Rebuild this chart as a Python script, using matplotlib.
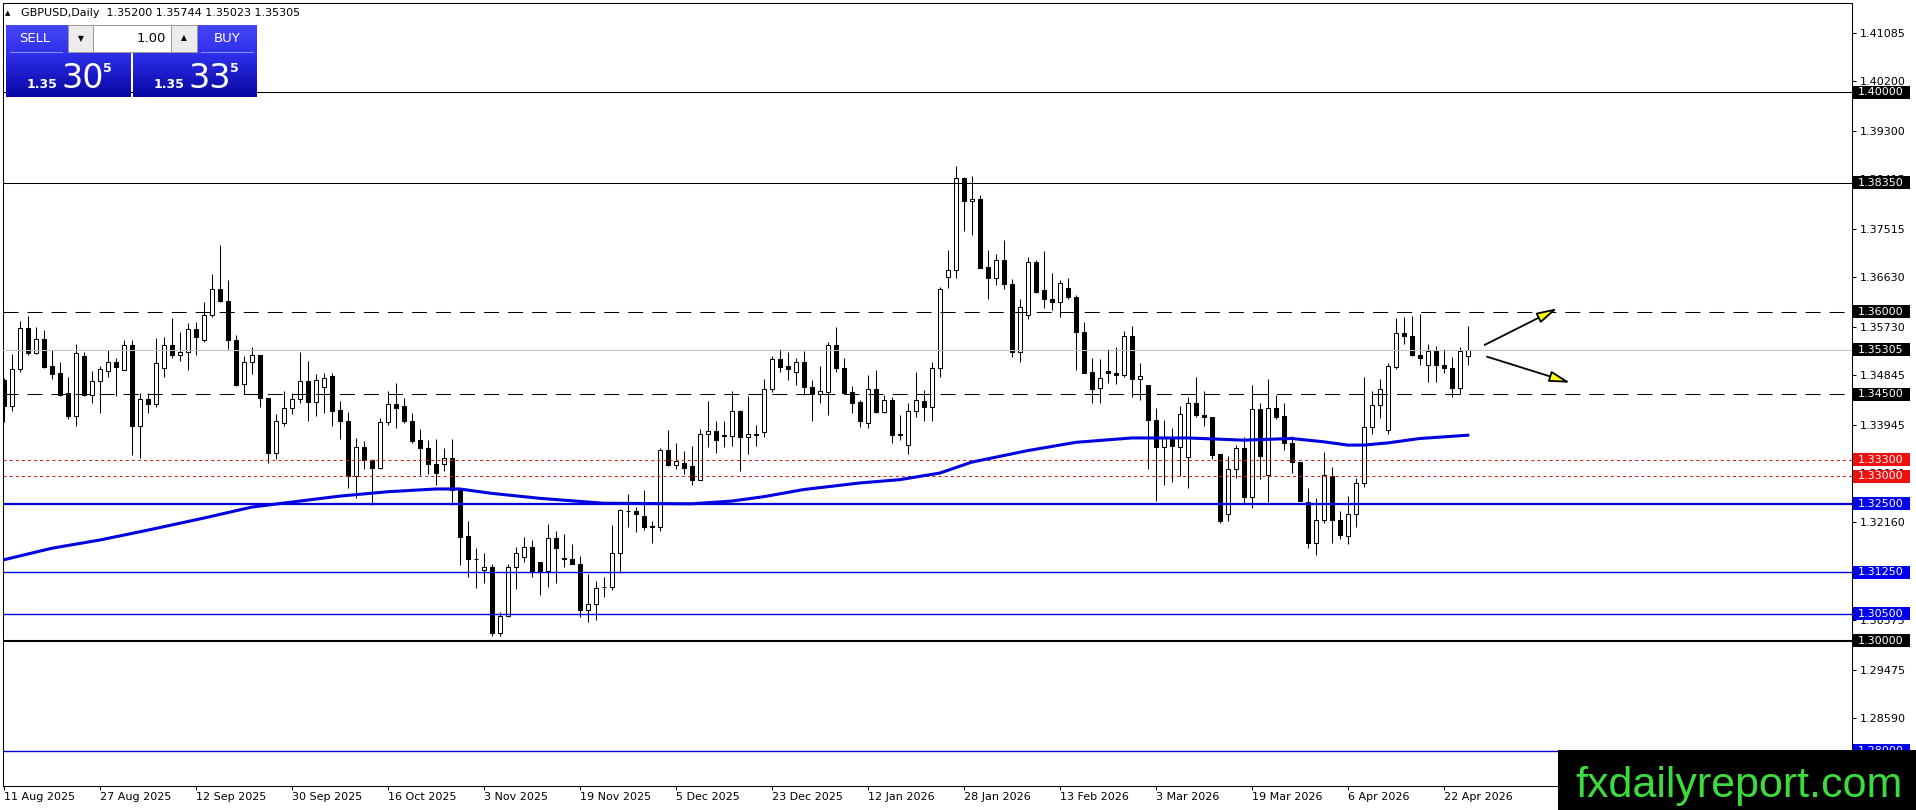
import numpy as np
import pandas as pd
import matplotlib
matplotlib.use("Agg")
import matplotlib.pyplot as plt
from matplotlib.patches import Rectangle
from matplotlib.transforms import blended_transform_factory

plt.rcParams['font.family'] = ['DejaVu Sans']
plt.rcParams['lines.scale_dashes'] = False

# daily GBPUSD candles, 11 Aug 2025 onwards
opens = [1.3476, 1.3428, 1.3495, 1.3571, 1.3525, 1.3551, 1.3501, 1.3488, 1.3452, 1.3410,
         1.3519, 1.3449, 1.3473, 1.3492, 1.3508, 1.3493, 1.3540, 1.3392, 1.3441, 1.3431,
         1.3497, 1.3540, 1.3522, 1.3526, 1.3569, 1.3549, 1.3594, 1.3641, 1.3620, 1.3549,
         1.3469, 1.3509, 1.3521, 1.3442, 1.3342, 1.3397, 1.3425, 1.3441, 1.3474, 1.3436,
         1.3462, 1.3483, 1.3421, 1.3400, 1.3300, 1.3353, 1.3330, 1.3316, 1.3399, 1.3431,
         1.3429, 1.3401, 1.3367, 1.3351, 1.3323, 1.3323, 1.3333, 1.3275, 1.3191, 1.3150,
         1.3130, 1.3135, 1.3015, 1.3046, 1.3134, 1.3153, 1.3171, 1.3144, 1.3128, 1.3187,
         1.3152, 1.3150, 1.3141, 1.3056, 1.3068, 1.3099, 1.3098, 1.3161, 1.3237, 1.3237,
         1.3228, 1.3209, 1.3208, 1.3348, 1.3321, 1.3325, 1.3319, 1.3294, 1.3378, 1.3383,
         1.3376, 1.3373, 1.3419, 1.3371, 1.3378, 1.3381, 1.3459, 1.3513, 1.3501, 1.3490,
         1.3508, 1.3463, 1.3451, 1.3453, 1.3539, 1.3497, 1.3453, 1.3435, 1.3398, 1.3460,
         1.3418, 1.3440, 1.3377, 1.3358, 1.3420, 1.3437, 1.3426, 1.3497, 1.3664, 1.3676,
         1.3844, 1.3802, 1.3806, 1.3682, 1.3662, 1.3694, 1.3650, 1.3526, 1.3594, 1.3690,
         1.3639, 1.3624, 1.3617, 1.3643, 1.3627, 1.3564, 1.3490, 1.3461, 1.3492, 1.3489,
         1.3484, 1.3556, 1.3478, 1.3467, 1.3403, 1.3354, 1.3370, 1.3354, 1.3336, 1.3434,
         1.3412, 1.3408, 1.3340, 1.3232, 1.3314, 1.3352, 1.3262, 1.3422, 1.3302, 1.3425,
         1.3410, 1.3360, 1.3327, 1.3254, 1.3179, 1.3221, 1.3301, 1.3220, 1.3192, 1.3231,
         1.3287, 1.3390, 1.3430, 1.3384, 1.3500, 1.3561, 1.3556, 1.3521, 1.3503, 1.3528,
         1.3503, 1.3497, 1.3461, 1.35200]
highs = [1.3479, 1.3523, 1.3584, 1.3593, 1.3572, 1.3566, 1.3530, 1.3508, 1.3482, 1.3542,
         1.3527, 1.3492, 1.3501, 1.3530, 1.3515, 1.3548, 1.3548, 1.3452, 1.3452, 1.3553,
         1.3554, 1.3589, 1.3564, 1.3579, 1.3581, 1.3618, 1.3668, 1.3722, 1.3657, 1.3558,
         1.3519, 1.3535, 1.3522, 1.3443, 1.3413, 1.3455, 1.3452, 1.3526, 1.3511, 1.3486,
         1.3488, 1.3488, 1.3437, 1.3418, 1.3370, 1.3365, 1.3331, 1.3406, 1.3455, 1.3470,
         1.3443, 1.3415, 1.3386, 1.3367, 1.3368, 1.3351, 1.3368, 1.3278, 1.3219, 1.3169,
         1.3161, 1.3140, 1.3052, 1.3141, 1.3172, 1.3189, 1.3184, 1.3144, 1.3214, 1.3201,
         1.3195, 1.3177, 1.3155, 1.3122, 1.3109, 1.3116, 1.3212, 1.3241, 1.3268, 1.3245,
         1.3275, 1.3218, 1.3351, 1.3384, 1.3360, 1.3347, 1.3355, 1.3387, 1.3437, 1.3400,
         1.3401, 1.3455, 1.3421, 1.3446, 1.3393, 1.3477, 1.3519, 1.3533, 1.3526, 1.3515,
         1.3529, 1.3476, 1.3501, 1.3545, 1.3572, 1.3515, 1.3465, 1.3439, 1.3485, 1.3494,
         1.3448, 1.3445, 1.3412, 1.3434, 1.3490, 1.3458, 1.3508, 1.3646, 1.3712, 1.3866,
         1.3845, 1.3847, 1.3812, 1.3713, 1.3706, 1.3731, 1.3659, 1.3623, 1.3699, 1.3695,
         1.3711, 1.3670, 1.3658, 1.3661, 1.3630, 1.3581, 1.3515, 1.3514, 1.3532, 1.3535,
         1.3565, 1.3574, 1.3507, 1.3467, 1.3425, 1.3403, 1.3388, 1.3428, 1.3445, 1.3481,
         1.3456, 1.3408, 1.3340, 1.3337, 1.3358, 1.3371, 1.3466, 1.3434, 1.3477, 1.3448,
         1.3433, 1.3374, 1.3327, 1.3279, 1.3261, 1.3344, 1.3317, 1.3237, 1.3265, 1.3297,
         1.3482, 1.3456, 1.3477, 1.3507, 1.3588, 1.3591, 1.3593, 1.3596, 1.3541, 1.3538,
         1.3533, 1.3517, 1.3535, 1.35744]
lows = [1.3399, 1.3419, 1.3491, 1.3521, 1.3523, 1.3498, 1.3477, 1.3446, 1.3405, 1.3391,
        1.3446, 1.3433, 1.3415, 1.3482, 1.3446, 1.3493, 1.3339, 1.3333, 1.3416, 1.3427,
        1.3482, 1.3515, 1.3511, 1.3493, 1.3521, 1.3545, 1.3591, 1.3617, 1.3533, 1.3464,
        1.3450, 1.3486, 1.3426, 1.3324, 1.3332, 1.3392, 1.3413, 1.3434, 1.3400, 1.3410,
        1.3415, 1.3391, 1.3368, 1.3278, 1.3260, 1.3313, 1.3248, 1.3313, 1.3394, 1.3389,
        1.3398, 1.3361, 1.3303, 1.3305, 1.3284, 1.3309, 1.3248, 1.3138, 1.3117, 1.3096,
        1.3106, 1.3009, 1.3009, 1.3044, 1.3094, 1.3144, 1.3116, 1.3083, 1.3099, 1.3106,
        1.3134, 1.3140, 1.3043, 1.3035, 1.3038, 1.3080, 1.3093, 1.3123, 1.3208, 1.3199,
        1.3203, 1.3178, 1.3201, 1.3319, 1.3314, 1.3304, 1.3284, 1.3294, 1.3353, 1.3342,
        1.3353, 1.3355, 1.3310, 1.3340, 1.3356, 1.3372, 1.3454, 1.3491, 1.3476, 1.3466,
        1.3448, 1.3400, 1.3433, 1.3412, 1.3491, 1.3451, 1.3415, 1.3390, 1.3389, 1.3416,
        1.3415, 1.3361, 1.3367, 1.3340, 1.3409, 1.3400, 1.3400, 1.3481, 1.3643, 1.3662,
        1.3747, 1.3739, 1.3679, 1.3623, 1.3649, 1.3641, 1.3517, 1.3508, 1.3586, 1.3635,
        1.3607, 1.3603, 1.3590, 1.3624, 1.3494, 1.3488, 1.3434, 1.3434, 1.3471, 1.3469,
        1.3482, 1.3445, 1.3440, 1.3313, 1.3255, 1.3285, 1.3290, 1.3300, 1.3279, 1.3409,
        1.3391, 1.3332, 1.3215, 1.3218, 1.3297, 1.3251, 1.3243, 1.3296, 1.3253, 1.3405,
        1.3348, 1.3307, 1.3255, 1.3170, 1.3156, 1.3215, 1.3178, 1.3186, 1.3176, 1.3208,
        1.3281, 1.3378, 1.3407, 1.3378, 1.3495, 1.3541, 1.3520, 1.3503, 1.3472, 1.3472,
        1.3489, 1.3444, 1.3450, 1.35023]
closes = [1.3428, 1.3495, 1.3571, 1.3525, 1.3551, 1.3500, 1.3487, 1.3449, 1.3410, 1.3524,
          1.3449, 1.3473, 1.3495, 1.3508, 1.3500, 1.3540, 1.3392, 1.3441, 1.3431, 1.3506,
          1.3540, 1.3521, 1.3526, 1.3569, 1.3554, 1.3594, 1.3641, 1.3619, 1.3549, 1.3466,
          1.3509, 1.3521, 1.3442, 1.3342, 1.3400, 1.3425, 1.3441, 1.3474, 1.3436, 1.3476,
          1.3480, 1.3420, 1.3400, 1.3300, 1.3354, 1.3330, 1.3316, 1.3399, 1.3431, 1.3424,
          1.3400, 1.3365, 1.3351, 1.3323, 1.3307, 1.3333, 1.3275, 1.3190, 1.3150, 1.3149,
          1.3135, 1.3015, 1.3046, 1.3134, 1.3160, 1.3171, 1.3128, 1.3128, 1.3187, 1.3169,
          1.3150, 1.3141, 1.3056, 1.3068, 1.3096, 1.3098, 1.3161, 1.3238, 1.3236, 1.3231,
          1.3208, 1.3208, 1.3348, 1.3321, 1.3328, 1.3316, 1.3294, 1.3378, 1.3383, 1.3367,
          1.3373, 1.3419, 1.3371, 1.3378, 1.3375, 1.3459, 1.3513, 1.3500, 1.3495, 1.3509,
          1.3463, 1.3450, 1.3455, 1.3539, 1.3497, 1.3452, 1.3434, 1.3400, 1.3460, 1.3418,
          1.3440, 1.3376, 1.3376, 1.3420, 1.3439, 1.3426, 1.3497, 1.3641, 1.3676, 1.3844,
          1.3802, 1.3806, 1.3680, 1.3662, 1.3694, 1.3650, 1.3526, 1.3608, 1.3690, 1.3636,
          1.3624, 1.3617, 1.3652, 1.3626, 1.3564, 1.3489, 1.3460, 1.3479, 1.3488, 1.3484,
          1.3556, 1.3478, 1.3483, 1.3402, 1.3354, 1.3370, 1.3355, 1.3414, 1.3433, 1.3411,
          1.3408, 1.3339, 1.3218, 1.3314, 1.3352, 1.3262, 1.3422, 1.3337, 1.3425, 1.3409,
          1.3360, 1.3326, 1.3256, 1.3179, 1.3221, 1.3302, 1.3220, 1.3194, 1.3231, 1.3287,
          1.3390, 1.3430, 1.3459, 1.3501, 1.3561, 1.3555, 1.3521, 1.3515, 1.3528, 1.3503,
          1.3497, 1.3461, 1.3529, 1.35305]

# moving average, sampled at these bars
ma_bars = [0, 6, 12, 18, 25, 31, 37, 42, 48, 54, 57, 61, 67, 75, 86, 91, 95, 100, 107,
           112, 117, 121, 128, 134, 141, 148, 155, 161, 165, 168, 170, 173, 177, 183]
ma_values = [1.3148, 1.3169, 1.3184, 1.3202, 1.3224, 1.3244, 1.3255, 1.3264, 1.3272,
             1.3277, 1.3277, 1.3269, 1.3260, 1.3251, 1.3250, 1.3255, 1.3263, 1.3276,
             1.3288, 1.3294, 1.3306, 1.3326, 1.3347, 1.3362, 1.3370, 1.3370, 1.3366,
             1.3369, 1.3363, 1.3357, 1.3357, 1.3361, 1.3369, 1.3375]

levels = [1.40000, 1.38350, 1.36000, 1.35305, 1.34500, 1.33300, 1.33000,
          1.32500, 1.31250, 1.30500, 1.30000, 1.28000]
level_kind = ['black', 'black', 'dash', 'price', 'dash', 'red', 'red',
              'blue_thick', 'blue', 'blue', 'black_thick', 'blue']

price_ticks = [1.41085, 1.40200, 1.39300, 1.38415, 1.37515, 1.36630, 1.35730, 1.34845,
               1.33945, 1.33060, 1.32160, 1.31275, 1.30375, 1.29475, 1.28590]

# the two scenario arrows (bar index, price)
arrow_from = [(185.1, 1.35395), (185.4, 1.35181)]
arrow_to = [(194.2, 1.36063), (195.8, 1.34707)]

symbol = "GBPUSD,Daily"
lot = "1.00"
bid, ask = 1.35305, 1.35335
holidays = ['2025-12-25', '2026-01-01']

# ---------------------------------------------------------------
W, H = 1916, 810
kind_style = {
    'black': ('black', 0.75, None),
    'black_thick': ('black', 1.5, None),
    'dash': ('black', 0.75, (10.8, 6.5)),
    'price': ('#c0c0c0', 0.75, None),
    'red': ('#d82020', 0.75, (2.2, 2.2)),
    'blue': ('#0000d8', 1.0, None),
    'blue_thick': ('#0000e0', 1.6, None),
}
box_color = {'black': 'black', 'black_thick': 'black', 'dash': 'black', 'price': 'black',
             'red': '#f01010', 'blue': '#0000ee', 'blue_thick': '#0000ee'}

o, h, l, c = (np.array(v) for v in (opens, highs, lows, closes))
x = np.arange(len(o))
days = pd.bdate_range('2025-08-11', periods=len(o) + 10)
days = days[~days.isin(pd.to_datetime(holidays))][:len(o)]

fig = plt.figure(figsize=(W / 100, H / 100), dpi=100)
ax_w, ax_h = 1849, 783
ax = fig.add_axes([3 / W, 24 / H, ax_w / W, ax_h / H])
x0 = -0.1
ax.set_xlim(x0, x0 + ax_w / 8)
ax.set_ylim(1.27357, 1.41627)
ppu = ax_h / (1.41627 - 1.27357)

up = c >= o
ax.vlines(x, l, h, color='black', lw=0.75, zorder=2)
ax.bar(x[up], (c - o)[up], bottom=o[up], width=0.55, color='white',
       edgecolor='black', lw=0.75, zorder=3)
ax.bar(x[~up], (o - c)[~up], bottom=c[~up], width=0.55, color='black',
       edgecolor='black', lw=0.75, zorder=3)

ax.plot(ma_bars, ma_values, color='#0000e0', lw=2.2, zorder=4.5, solid_joinstyle='round')

trans = blended_transform_factory(ax.transAxes, ax.transData)
box_h = 13 / ppu
for lev, kind in zip(levels, level_kind):
    col, lw, dash = kind_style[kind]
    ln = ax.axhline(lev, color=col, lw=lw, zorder=4)
    if dash:
        ln.set_dashes(dash)
    ax.add_patch(Rectangle((1 + 1.5 / ax_w, lev - box_h / 2), 56 / ax_w, box_h,
                           transform=trans, clip_on=False, facecolor=box_color[kind],
                           edgecolor='none', zorder=5))
    ax.text(1 + 6 / ax_w, lev, f"{lev:.5f}", transform=trans, color='white',
            fontsize=8, va='center', ha='left', zorder=6, clip_on=False)

for (xa, ya), (xb, yb) in zip(arrow_from, arrow_to):
    ax.annotate('', xy=(xb, yb), xytext=(xa, ya), annotation_clip=False,
                arrowprops=dict(arrowstyle='-|>,head_length=1.25,head_width=0.33',
                                mutation_scale=10, fc='#ffff00', ec='black', lw=1.3,
                                shrinkA=0, shrinkB=0), zorder=6)

ax.yaxis.tick_right()
ax.set_yticks(price_ticks)
ax.set_yticklabels([f"{v:.5f}" for v in price_ticks])
ax.tick_params(axis='y', direction='out', length=3, width=0.75, pad=2.3,
               labelsize=8, colors='black')
tick_idx = x[::12]
ax.set_xticks(tick_idx)
ax.set_xticklabels([f"{days[i].day} {days[i]:%b %Y}" for i in tick_idx])
for lab in ax.get_xticklabels():
    lab.set_ha('left')
ax.tick_params(axis='x', direction='out', length=3, width=0.75, pad=1.5, labelsize=8)
for s in ax.spines.values():
    s.set_linewidth(0.75)
    s.set_color('black')

# overlay in pixel coordinates for the terminal widgets and watermark
ov = fig.add_axes([0, 0, 1, 1], zorder=10)
ov.axis('off')

ov.text(8, 13, "\u25b2", fontsize=5, ha='center', va='center')
ov.text(21, 13, f"{symbol}  {o[-1]:.5f} {h[-1]:.5f} {l[-1]:.5f} {c[-1]:.5f}",
        fontsize=8, ha='left', va='center')

top = np.array([70, 70, 245])
mid = np.array([48, 48, 238])
bot = np.array([6, 6, 160])
rows = []
for yy in range(25, 97):
    if yy < 52:
        rows.append(top + (mid - top) * (yy - 25) / 27)
    else:
        rows.append(mid + (bot - mid) * (yy - 52) / 45)
grad = (np.array(rows) / 255)[:, None, :]

for bx0, bx1, label, lab_x, sep, price in [(6, 131, 'SELL', 35, (10, 62), bid),
                                           (133, 257, 'BUY', 227, (201, 253), ask)]:
    ov.imshow(grad, extent=(bx0, bx1, 97, 25), aspect='auto', interpolation='bilinear', zorder=1)
    ov.plot(sep, [52, 52], color='#8c8cff', lw=0.8, zorder=2)
    ov.text(lab_x, 39, label, color='white', fontsize=9.5, ha='center', va='center', zorder=3)
    s = f"{price:.5f}"
    ov.text(bx0 + 21, 88, s[:4], color='white', fontsize=9, fontweight='bold',
            ha='left', va='baseline', zorder=3)
    ov.text(bx0 + 55, 88, s[4:6], color='white', fontsize=24, ha='left', va='baseline', zorder=3)
    ov.text(bx0 + 97, 72, s[6], color='white', fontsize=9, fontweight='bold',
            ha='left', va='baseline', zorder=3)

ov.add_patch(Rectangle((68, 25), 129, 27, facecolor='#ececec', edgecolor='#9a9a9a', lw=0.7, zorder=3))
ov.add_patch(Rectangle((93, 25), 78, 27, facecolor='white', edgecolor='#9a9a9a', lw=0.7, zorder=4))
ov.text(80.5, 38.5, "\u25bc", fontsize=5.5, ha='center', va='center', zorder=5)
ov.text(184, 37.5, "\u25b2", fontsize=5.5, ha='center', va='center', zorder=5)
ov.text(166, 38.5, lot, fontsize=9.5, ha='right', va='center', zorder=5)

ov.add_patch(Rectangle((1558, 750), W - 1558, H - 750, facecolor='black', edgecolor='none', zorder=6))
ov.text(1575, 797, "fxdailyreport.com", color='#3ddc3d', fontsize=31,
        family=['Liberation Sans', 'DejaVu Sans'], ha='left', va='baseline', zorder=7)

ov.set_xlim(0, W)
ov.set_ylim(H, 0)

fig.savefig("out.png", dpi=100)
